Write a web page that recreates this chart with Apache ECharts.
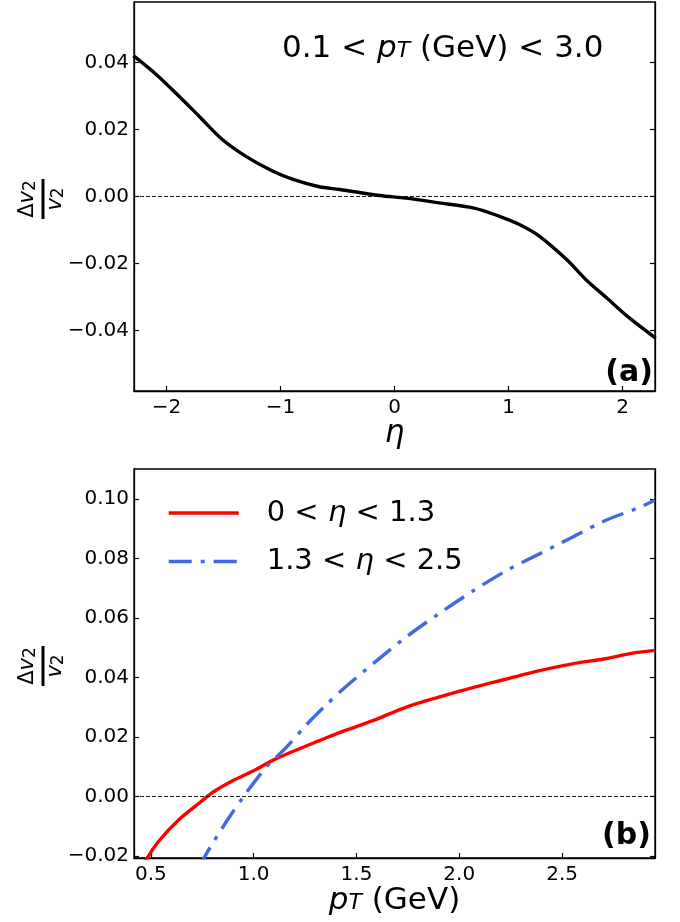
<!DOCTYPE html>
<html>
<head>
<meta charset="utf-8">
<script src="https://cdn.jsdelivr.net/npm/echarts@6/dist/echarts.min.js"></script>
<style>
  html, body { margin: 0; padding: 0; background: #fff; }
  #chart { width: 680px; height: 922px; }
</style>
</head>
<body>
<div id="chart"></div>
<script>
// panel (a): dv2/v2 vs eta, 0.1 < pT < 3.0 GeV
var etaVals = [-2.29, -2.09, -1.89, -1.71, -1.51, -1.30, -1.07, -0.89, -0.66, -0.48, -0.13, 0.10, 0.39, 0.69, 0.92, 1.10, 1.27, 1.51, 1.68, 1.86, 2.06, 2.29];
var dv2Eta  = [0.0420, 0.0364, 0.0299, 0.0238, 0.0170, 0.0119, 0.0076, 0.0051, 0.0029, 0.0021, 0.0003, -0.0005, -0.0019, -0.0034, -0.0059, -0.0084, -0.0118, -0.0188, -0.0248, -0.0302, -0.0362, -0.0422];

// panel (b): dv2/v2 vs pT
var ptRed  = [0.46, 0.48, 0.54, 0.64, 0.74, 0.80, 0.90, 1.00, 1.09, 1.22, 1.32, 1.42, 1.58, 1.74, 1.90, 2.07, 2.23, 2.39, 2.55, 2.71, 2.83, 2.95];
var dv2Red = [-0.0245, -0.0209, -0.0148, -0.0075, -0.0019, 0.0014, 0.0054, 0.0087, 0.0121, 0.0160, 0.0188, 0.0216, 0.0255, 0.0300, 0.0334, 0.0367, 0.0395, 0.0423, 0.0446, 0.0463, 0.0480, 0.0491];
var ptBlue  = [0.74, 0.76, 0.87, 0.96, 1.06, 1.16, 1.26, 1.35, 1.42, 1.58, 1.74, 1.90, 2.07, 2.23, 2.39, 2.55, 2.71, 2.88, 2.95];
var dv2Blue = [-0.0240, -0.0204, -0.0081, 0.0009, 0.0098, 0.0166, 0.0244, 0.0306, 0.0352, 0.0446, 0.0535, 0.0614, 0.0692, 0.0759, 0.0815, 0.0871, 0.0927, 0.0972, 0.0995];

var etaTicks = [-2, -1, 0, 1, 2];
var yTicksA  = [-0.04, -0.02, 0, 0.02, 0.04];
var ptTicks  = [0.5, 1.0, 1.5, 2.0, 2.5];
var yTicksB  = [-0.02, 0, 0.02, 0.04, 0.06, 0.08, 0.10];

var seriesNames = ['0 < η < 1.3', '1.3 < η < 2.5'];

function zip(xs, ys) {
    return xs.map(function (x, i) { return [x, ys[i]]; });
}
function minus(s) { return String(s).replace('-', '\u2212'); }

var FONT = 'DejaVu Sans';
var axisLine = { show: true, onZero: false, lineStyle: { color: '#000', width: 1.3 } };

function xAxisCfg(grid, min, max, ticks, fmt, name, gap) {
    return {
        type: 'value', gridIndex: grid, min: min, max: max,
        axisLine: axisLine,
        axisTick: { inside: true, length: 5, lineStyle: { color: '#000', width: 1.2 }, customValues: ticks },
        axisLabel: { customValues: ticks, formatter: fmt, color: '#000', fontSize: 20, fontFamily: FONT, margin: 7 },
        splitLine: { show: false },
        name: name, nameLocation: 'middle', nameGap: gap,
        nameTextStyle: {
            color: '#000', fontSize: 31, fontFamily: FONT,
            rich: {
                i: { fontStyle: 'italic', fontSize: 31, fontFamily: FONT, color: '#000' },
                s: { fontStyle: 'italic', fontSize: 22, fontFamily: FONT, color: '#000', padding: [4, 0, 0, 0] }
            }
        }
    };
}
function yAxisCfg(grid, min, max, ticks, pos) {
    return {
        type: 'value', gridIndex: grid, min: min, max: max, position: pos,
        axisLine: axisLine,
        axisTick: { inside: true, length: 5, lineStyle: { color: '#000', width: 1.2 }, customValues: ticks },
        axisLabel: {
            show: pos === 'left', customValues: ticks,
            formatter: function (v) { return minus(v.toFixed(2)); },
            color: '#000', fontSize: 20, fontFamily: FONT, margin: 5
        },
        splitLine: { show: false }
    };
}

function fraction(cx, cy) {
    var rich = { i: { fontStyle: 'italic', fontSize: 21, fontFamily: FONT }, s: { fontSize: 17, fontFamily: FONT, padding: [5, 0, 0, 0] } };
    return {
        type: 'group', x: cx, y: cy, rotation: Math.PI / 2,
        children: [
            { type: 'rect', shape: { x: -20, y: -1.5, width: 40, height: 3 }, style: { fill: '#000' } },
            { type: 'text', x: 0, y: -15, style: {
                text: 'Δ{i|v}{s|2}', font: '21px "DejaVu Sans"', fill: '#000', align: 'center', verticalAlign: 'middle', rich: rich } },
            { type: 'text', x: 0, y: 13, style: {
                text: '{i|v}{s|2}', font: '21px "DejaVu Sans"', fill: '#000', align: 'center', verticalAlign: 'middle', rich: rich } }
        ]
    };
}

var zeroLine = {
    silent: true, symbol: 'none', label: { show: false },
    lineStyle: { color: '#000', width: 0.9, type: [4, 2] },
    data: [{ yAxis: 0 }]
};

var chart = echarts.init(document.getElementById('chart'), null, { renderer: 'canvas' });
chart.setOption({
    backgroundColor: '#fff',
    animation: false,
    textStyle: { fontFamily: FONT },
    grid: [
        { left: 134, top: 2, width: 521, height: 389, show: true, borderColor: '#000', borderWidth: 1.3, outerBoundsMode: 'none' },
        { left: 134, top: 469, width: 521, height: 389, show: true, borderColor: '#000', borderWidth: 1.3, outerBoundsMode: 'none' }
    ],
    xAxis: [
        xAxisCfg(0, -2.285, 2.285, etaTicks, function (v) { return minus(v); }, '{i|η}', 26),
        xAxisCfg(1, 0.418, 2.952, ptTicks, function (v) { return v.toFixed(1); }, '{i|p}{s|T} (GeV)', 23)
    ],
    yAxis: [
        yAxisCfg(0, -0.058, 0.058, yTicksA, 'left'),
        yAxisCfg(0, -0.058, 0.058, yTicksA, 'right'),
        yAxisCfg(1, -0.0206, 0.110, yTicksB, 'left'),
        yAxisCfg(1, -0.0206, 0.110, yTicksB, 'right')
    ],
    legend: {
        data: seriesNames, orient: 'vertical', left: 162, top: 493,
        itemWidth: 70, itemHeight: 14, itemGap: 18.5,
        itemStyle: { color: 'rgba(0,0,0,0)', borderWidth: 0, opacity: 0 },
        lineStyle: { width: 3.4 },
        formatter: function (name) { return '{sp|}' + name.replace('η', '{i|η}'); },
        textStyle: {
            color: '#000', fontSize: 29, fontFamily: FONT, lineHeight: 30,
            rich: {
                sp: { width: 23 },
                i: { fontStyle: 'italic', fontSize: 29, fontFamily: FONT, color: '#000' }
            }
        }
    },
    series: [
        {
            name: 'eta', type: 'line', xAxisIndex: 0, yAxisIndex: 0,
            data: zip(etaVals, dv2Eta), smooth: 0.3, symbol: 'none',
            lineStyle: { color: '#000', width: 3.4 }, itemStyle: { color: '#000' },
            markLine: zeroLine
        },
        {
            name: seriesNames[0], type: 'line', xAxisIndex: 1, yAxisIndex: 2,
            data: zip(ptRed, dv2Red), smooth: 0.3, symbol: 'none',
            lineStyle: { color: '#ff0000', width: 3.4 }, itemStyle: { color: '#ff0000' },
            markLine: zeroLine
        },
        {
            name: seriesNames[1], type: 'line', xAxisIndex: 1, yAxisIndex: 2,
            data: zip(ptBlue, dv2Blue), smooth: 0.3, symbol: 'none',
            lineStyle: { color: '#4169e1', width: 3.4, type: [23, 9, 4, 9] }, itemStyle: { color: '#4169e1' }
        }
    ],
    graphic: [
        fraction(43, 199),
        fraction(43, 666),
        { type: 'text', x: 282, y: 49, style: {
            text: '0.1 < {i|p}{s|T} (GeV) < 3.0', font: '31px "DejaVu Sans"', fill: '#000', align: 'left', verticalAlign: 'middle',
            rich: {
                i: { fontStyle: 'italic', fontSize: 31, fontFamily: FONT },
                s: { fontStyle: 'italic', fontSize: 22, fontFamily: FONT, padding: [4, 0, 0, 0] }
            } } },
        { type: 'text', x: 653, y: 373, style: { text: '(a)', font: 'bold 30px "DejaVu Sans"', fill: '#000', align: 'right', verticalAlign: 'middle' } },
        { type: 'text', x: 651, y: 836, style: { text: '(b)', font: 'bold 30px "DejaVu Sans"', fill: '#000', align: 'right', verticalAlign: 'middle' } }
    ]
});
</script>
</body>
</html>
